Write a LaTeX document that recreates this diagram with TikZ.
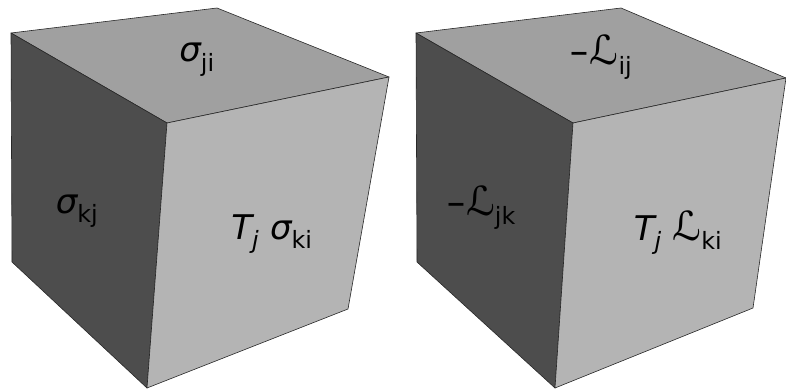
\documentclass[tikz,border=0pt]{standalone}
\usepackage{fontspec}
\setmainfont{DejaVu Sans}
\usepackage{xcolor}
\definecolor{cTop}{RGB}{160,160,160}
\definecolor{cLeft}{RGB}{77,77,77}
\definecolor{cRight}{RGB}{180,180,180}
\definecolor{cEdge}{RGB}{40,40,40}
\newcommand{\sg}{{\itshape σ}}
\newcommand{\Lc}{{\fontsize{40}{40}\selectfont ℒ}}
\newcommand{\mn}{\scalebox{0.7}[1]{−}}
\newcommand{\sub}[1]{\textsubscript{#1}}

\begin{document}
\begin{tikzpicture}[x=1pt, y=-1pt, font=\fontsize{34}{36}\selectfont]

% ------------------- 定义样式 -------------------
\tikzstyle{face} = [draw=cEdge, line width=0.6pt, line join=round]
\tikzstyle{lbl} = [inner sep=0pt, anchor=base]

\useasboundingbox (0,0) rectangle (786,390);

% ------------------- 左立方体 -------------------
\coordinate (LA) at (11,33);
\coordinate (LB) at (217,8);
\coordinate (LC) at (389,77);
\coordinate (LD) at (167,123);
\coordinate (LE) at (12,262);
\coordinate (LF) at (147,388);
\coordinate (LG) at (348,309);

\draw[face, fill=cTop] (LA) -- (LB) -- (LC) -- (LD) -- cycle;
\draw[face, fill=cLeft] (LA) -- (LD) -- (LF) -- (LE) -- cycle;
\draw[face, fill=cRight] (LD) -- (LC) -- (LG) -- (LF) -- cycle;

\node[lbl] (Lji) at (197,62) {\sg\sub{ji}};
\node[lbl] (Lkj) at (77,213) {\sg\sub{kj}};
\node[lbl] (Lki) at (272,239) {{\itshape T}\sub{\itshape j} \sg\sub{ki}};

% ------------------- 右立方体 -------------------
\coordinate (RA) at (416,33);
\coordinate (RB) at (621,8);
\coordinate (RC) at (786,78);
\coordinate (RD) at (573,123);
\coordinate (RE) at (417,262);
\coordinate (RF) at (555,388);
\coordinate (RG) at (753,308);

\draw[face, fill=cTop] (RA) -- (RB) -- (RC) -- (RD) -- cycle;
\draw[face, fill=cLeft] (RA) -- (RD) -- (RF) -- (RE) -- cycle;
\draw[face, fill=cRight] (RD) -- (RC) -- (RG) -- (RF) -- cycle;

\node[lbl] (Rij) at (601,65) {\mn\Lc\sub{ij}};
\node[lbl] (Rjk) at (481,215) {\mn\Lc\sub{jk}};
\node[lbl] (Rki) at (678,240) {{\itshape T}\sub{\itshape j} \Lc\sub{ki}};

\end{tikzpicture}
\end{document}
